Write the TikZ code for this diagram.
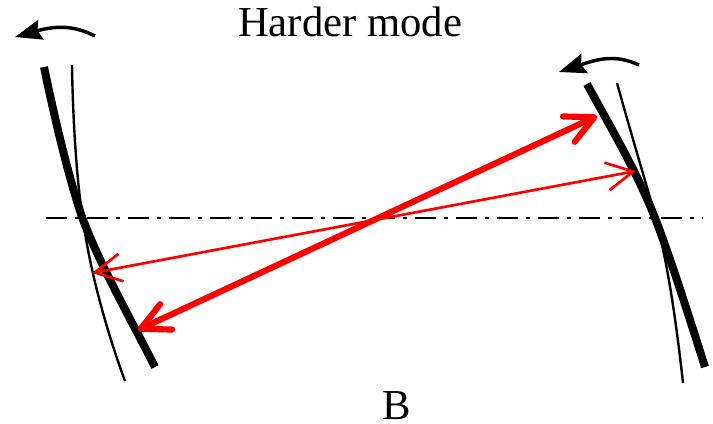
\documentclass[tikz,border=0pt]{standalone}
\usepackage{fontspec}
\setmainfont{Liberation Serif}
\usetikzlibrary{arrows.meta}
\definecolor{raycolor}{RGB}{255,0,0}

\begin{document}
\begin{tikzpicture}[x=0.75pt,y=-0.75pt,>=Latex]
  \useasboundingbox (0,0) rectangle (713,424);
  \tikzset{
    mirror/.style={line width=6pt,black},
    thinmirror/.style={line width=1.8pt,black},
    axisline/.style={line width=1.9pt,black,dash pattern=on 15.75pt off 6pt on 3pt off 6pt},
    bigray/.style={line width=4.6pt,raycolor,line cap=round,{Straight Barb[length=21pt,width=21pt,line width=4.6pt,round]}-{Straight Barb[length=21pt,width=21pt,line width=4.6pt,round]}},
    smallray/.style={line width=2pt,raycolor,{Straight Barb[length=20pt,width=21pt,line width=2pt]}-{Straight Barb[length=20pt,width=21pt,line width=2pt]}},
    tiltarrow/.style={line width=2.6pt,black,-{Stealth[length=20pt,width=15pt,inset=2.5pt]}},
    caption/.style={font=\fontsize{32}{36}\selectfont,inner sep=0pt}
  }

  % axis
  \draw[axisline] (46,218) -- (703,218);

  % left mirror
  \draw[thinmirror] (72,65) .. controls (73,130) and (78,190) .. (82,212) .. controls (89,270) and (108,335) .. (125,381);
  \draw[mirror] (44,67) .. controls (55,120) and (68,175) .. (82,217) .. controls (100,265) and (127,312) .. (155,367);

  % right mirror
  \draw[thinmirror] (617,83) .. controls (630,130) and (645,180) .. (655,215) .. controls (668,265) and (676,320) .. (683,383);
  \draw[mirror] (587,84) .. controls (612,130) and (637,172) .. (655,218) .. controls (672,262) and (690,320) .. (705,367);

  % rays
  \coordinate (bigleft) at (138,330);
  \coordinate (bigright) at (597,116);
  \coordinate (smallleft) at (92,273);
  \coordinate (smallright) at (636,171);
  \draw[bigray] (bigleft) -- (bigright);
  \draw[smallray] (smallleft) -- (smallright);

  % tilt
  \coordinate (lefttail) at (95,36);
  \coordinate (lefthead) at (15,37);
  \coordinate (righttail) at (639,65);
  \coordinate (righthead) at (559,72);
  \draw[tiltarrow] (lefttail) .. controls (75,26) and (58,25) .. (lefthead);
  \draw[tiltarrow] (righttail) .. controls (615,54) and (598,59) .. (righthead);

  \node[caption] (title) at (350,22) {Harder mode};
  \node[caption] (modelabel) at (397,406) {B};
\end{tikzpicture}
\end{document}
